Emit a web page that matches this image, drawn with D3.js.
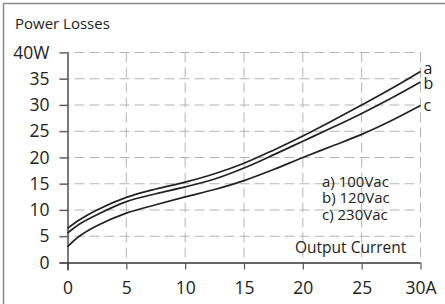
<!DOCTYPE html>
<html>
<head>
<meta charset="utf-8">
<script src="https://cdn.jsdelivr.net/npm/d3@7"></script>
<style>
  body { margin: 0; background: #fff; }
  svg { display: block; }
</style>
</head>
<body>
<div id="chart"></div>
<script>
// valori
var current = [0, 1, 2.5, 5, 7.5, 10, 12.5, 15, 17.5, 20, 22.5, 25, 27.5, 30];
var lossA = [6.5, 8.1, 10.0, 12.4, 14.0, 15.3, 16.9, 18.9, 21.4, 24.1, 27.0, 30.0, 33.1, 36.4];
var lossB = [5.6, 7.3, 9.1, 11.6, 13.1, 14.4, 15.9, 18.0, 20.5, 23.1, 25.7, 28.4, 31.3, 34.4];
var lossC = [3.0, 5.0, 7.0, 9.4, 11.0, 12.5, 13.9, 15.6, 17.7, 20.0, 22.2, 24.4, 27.0, 29.9];
var curveNames = ["a", "b", "c"];
var legendLabels = ["a) 100Vac", "b) 120Vac", "c) 230Vac"];
var xTicks = [0, 5, 10, 15, 20, 25, 30];
var yTicks = [0, 5, 10, 15, 20, 25, 30, 35, 40];

var width = 445;
var height = 304;
var font = "'Open Sans', sans-serif";

var svg = d3.select("#chart")
            .append("svg")
            .attr("width", width)
            .attr("height", height)
            .style("font-family", font);

svg.append("rect")
   .attr("width", width)
   .attr("height", height)
   .attr("fill", "#fff");

// bordo (solo sopra e a sinistra sono visibili)
svg.append("path")
   .attr("d", "M3.5," + height + "V3.5H" + width)
   .attr("fill", "none")
   .attr("stroke", "#8a8a8a")
   .attr("stroke-width", 1.5);

var x = d3.scaleLinear().domain([0, 30]).range([67.5, 420.5]);
var y = d3.scaleLinear().domain([0, 40]).range([262.5, 52.5]);

// griglia tratteggiata
var grid = svg.append("g")
              .attr("stroke", "#b4b4b4")
              .attr("stroke-width", 1)
              .attr("stroke-dasharray", "10,5");

grid.selectAll("line.h")
    .data(yTicks.filter(d => d > 0))
    .enter()
    .append("line")
    .attr("class", "h")
    .attr("x1", x(0) - 8)
    .attr("x2", x(30))
    .attr("y1", d => y(d))
    .attr("y2", d => y(d));

grid.selectAll("line.v")
    .data(xTicks.filter(d => d > 0))
    .enter()
    .append("line")
    .attr("class", "v")
    .attr("y1", y(40))
    .attr("y2", y(0))
    .attr("x1", d => x(d))
    .attr("x2", d => x(d));

// assi
var xAxis = d3.axisBottom(x)
              .tickValues(xTicks)
              .tickSizeInner(7)
              .tickSizeOuter(0)
              .tickPadding(12)
              .tickFormat(d => d == 30 ? "30A" : d);

var yAxis = d3.axisLeft(y)
              .tickValues(yTicks)
              .tickSizeInner(8)
              .tickSizeOuter(0)
              .tickPadding(10)
              .tickFormat(d => d == 40 ? "40W" : d);

var gx = svg.append("g")
            .attr("transform", "translate(0," + y(0) + ")")
            .call(xAxis);
var gy = svg.append("g")
            .attr("transform", "translate(" + x(0) + ",0)")
            .call(yAxis);

[gx, gy].forEach(g => {
    g.select(".domain").attr("stroke", "#333").attr("stroke-width", 1.3);
    g.selectAll(".tick line").attr("stroke", "#555").attr("stroke-width", 1.2);
    g.selectAll("text")
     .attr("fill", "#222")
     .style("font-family", font)
     .style("font-size", "17.5px");
});
gx.select(".domain").attr("d", "M" + (x(0) - 8) + ",0.5H" + x(30));
gy.select(".domain").attr("d", "M0.5," + y(40) + "V" + (y(0) + 8));

// curve
var series = [lossA, lossB, lossC];
var line = d3.line()
             .x((d, i) => x(current[i]))
             .y(d => y(d))
             .curve(d3.curveCatmullRom.alpha(0.5));

svg.append("g")
   .selectAll("path")
   .data(series)
   .enter()
   .append("path")
   .attr("d", d => line(d))
   .attr("fill", "none")
   .attr("stroke", "#222")
   .attr("stroke-width", 1.7);

// etichette a, b, c alla fine delle curve
svg.append("g")
   .selectAll("text")
   .data(series)
   .enter()
   .append("text")
   .attr("x", x(30) + 3)
   .attr("y", (d, i) => y(d[d.length - 1]) + [3, 7, 5][i])
   .attr("fill", "#222")
   .style("font-size", "16px")
   .text((d, i) => curveNames[i]);

// titolo e legenda
svg.append("text")
   .attr("x", 15)
   .attr("y", 29)
   .attr("fill", "#222")
   .style("font-size", "15px")
   .text("Power Losses");

svg.append("g")
   .selectAll("text")
   .data(legendLabels)
   .enter()
   .append("text")
   .attr("x", 322)
   .attr("y", (d, i) => 187 + i * 16.3)
   .attr("fill", "#222")
   .style("font-size", "15px")
   .text(d => d);

svg.append("text")
   .attr("x", 295)
   .attr("y", 253)
   .attr("fill", "#222")
   .style("font-size", "15.5px")
   .text("Output Current");
</script>
</body>
</html>
